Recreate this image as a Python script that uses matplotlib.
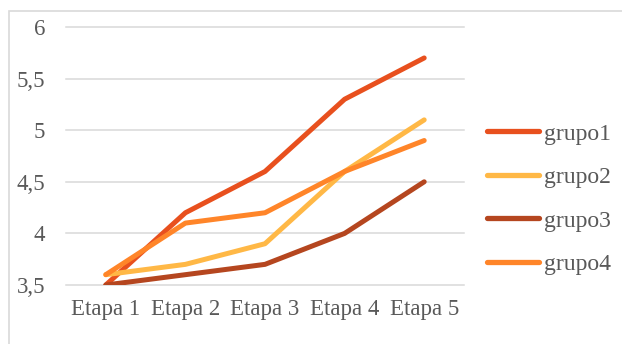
import matplotlib
matplotlib.use("Agg")
import matplotlib.pyplot as plt
from matplotlib.patches import Rectangle

categories = ["Etapa 1", "Etapa 2", "Etapa 3", "Etapa 4", "Etapa 5"]
grupo1 = [3.5, 4.2, 4.6, 5.3, 5.7]
grupo2 = [3.6, 3.7, 3.9, 4.6, 5.1]
grupo3 = [3.5, 3.6, 3.7, 4.0, 4.5]
grupo4 = [3.6, 4.1, 4.2, 4.6, 4.9]
series_names = ["grupo1", "grupo2", "grupo3", "grupo4"]
yticks = [3.5, 4.0, 4.5, 5.0, 5.5, 6.0]
ytick_labels = ["3,5", "4", "4,5", "5", "5,5", "6"]

colors = ["#E8501E", "#FFB846", "#B5461F", "#FF8529"]

plt.rcParams['font.family'] = ['Liberation Serif', 'DejaVu Serif']
W, H = 622, 344
fig = plt.figure(figsize=(W / 100, H / 100), dpi=100)

# outer chart border
fig.patches.append(Rectangle((9 / W, -0.1), 1.2, 1 - 11 / H + 0.1, transform=fig.transFigure,
                             fill=False, edgecolor="#D9D9D9", linewidth=1.2))

ax = fig.add_axes([66 / W, 1 - 285 / H, (464 - 66) / W, (285 - 27) / H])
x = list(range(len(categories)))
for name, vals, c in zip(series_names, [grupo1, grupo2, grupo3, grupo4], colors):
    ax.plot(x, vals, color=c, linewidth=3.6, solid_capstyle='round', label=name, zorder=3)

ax.set_xlim(-0.5, 4.5)
ax.set_ylim(3.5, 6.0)
ax.set_yticks(yticks)
ax.set_yticklabels(ytick_labels)
ax.set_xticks(x)
ax.set_xticklabels(categories)
for s in ax.spines.values():
    s.set_visible(False)
ax.grid(axis='y', color="#D9D9D9", linewidth=1.1)
ax.set_axisbelow(True)
for gl in ax.get_ygridlines():
    gl.set_clip_on(False)
ax.tick_params(axis='both', length=0, labelsize=16.5, labelcolor="#595959")
ax.tick_params(axis='y', pad=15)
ax.tick_params(axis='x', pad=10)

leg = ax.legend(loc='center left', bbox_to_anchor=(466 / W, 1 - 199 / H), bbox_transform=fig.transFigure,
                frameon=False, fontsize=17, handlelength=2.2, labelspacing=0.93, handletextpad=0.2)
for t in leg.get_texts():
    t.set_color("#595959")
for h in leg.get_lines():
    h.set_linewidth(3.8)
    h.set_solid_capstyle('round')

fig.savefig("out.png", dpi=100)
